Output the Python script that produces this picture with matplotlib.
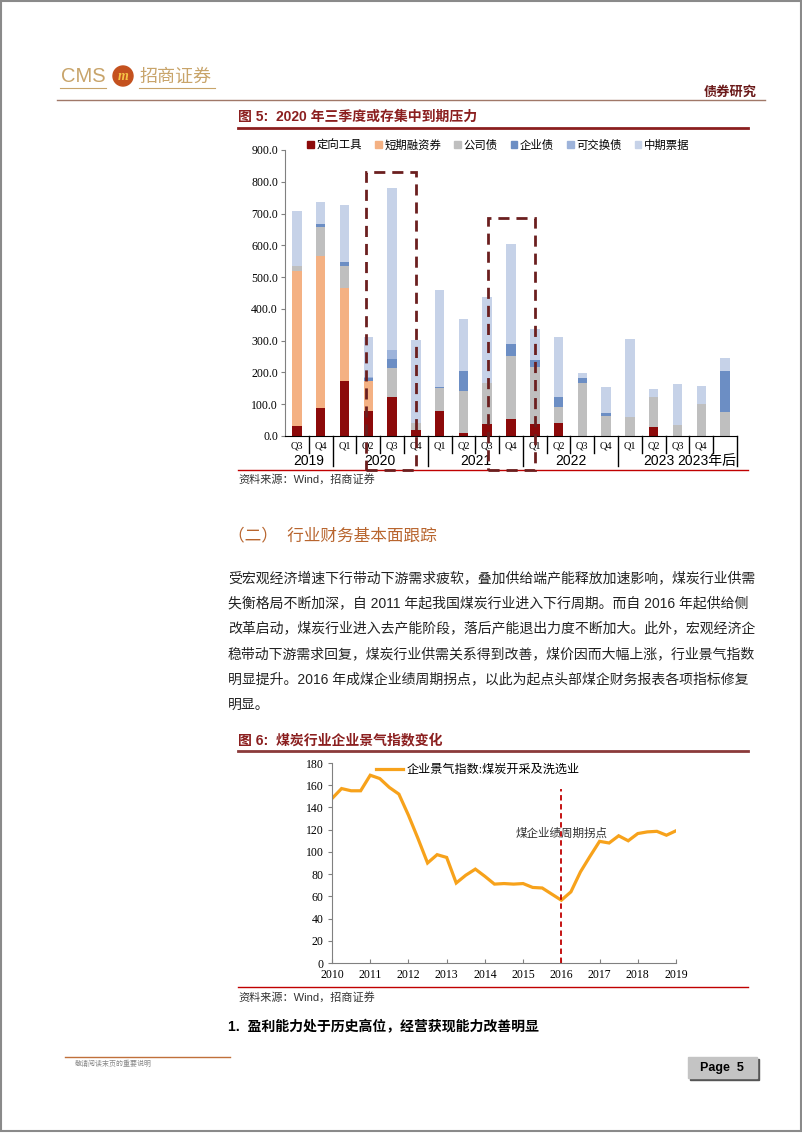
import numpy as np
import matplotlib
matplotlib.use('Agg')
import matplotlib.pyplot as plt
from matplotlib.patches import Rectangle, Circle, Patch

# ---------------- data: figure 5 (bond maturity, stacked bars) ----------------
quarters = ['Q3', 'Q4', 'Q1', 'Q2', 'Q3', 'Q4', 'Q1', 'Q2', 'Q3', 'Q4',
            'Q1', 'Q2', 'Q3', 'Q4', 'Q1', 'Q2', 'Q3', 'Q4', '']
years = ['2019', '2020', '2021', '2022', '2023', '2023年后']
series_names = ['定向工具', '短期融资券', '公司债', '企业债', '可交换债', '中期票据']
dingxiang = [31, 87, 173, 80, 123, 20, 79, 8, 39, 55, 38, 42, 0, 0, 0, 29, 0, 0, 0]
duanrong = [488, 480, 294, 94, 0, 0, 0, 0, 0, 0, 0, 0, 0, 0, 0, 0, 0, 0, 0]
gongsi = [17, 90, 69, 0, 90, 20, 72, 134, 129, 197, 180, 50, 166, 63, 60, 93, 35, 100, 75]
qiye = [0, 9, 13, 9, 29, 0, 4, 62, 0, 38, 21, 31, 16, 8, 0, 0, 0, 0, 129]
kejiaohuan = [0, 0, 0, 3, 29, 0, 0, 0, 0, 0, 0, 0, 0, 0, 0, 0, 0, 0, 0]
zhongpiao = [172, 70, 178, 125, 509, 262, 306, 165, 270, 313, 97, 188, 16, 84, 244, 27, 128, 57, 41]
bar_colors = ['#8C0A0A', '#F4B183', '#BFBFBF', '#6C8EC4', '#9DB3DA', '#C6D2E8']

# ---------------- data: figure 6 (coal industry climate index, quarterly) -----
index_values = [148, 157, 155, 155, 169, 166, 158, 152, 133, 112, 90, 97.5, 95,
                72, 79, 84.5, 78, 71, 71.5, 71, 71.5, 68, 67.5, 62, 56.5, 64,
                82, 96, 109.5, 108, 114.5, 110, 116.5, 118, 118.5, 115, 119]
index_years = list(range(2010, 2020))

paragraph = [
    '受宏观经济增速下行带动下游需求疲软，叠加供给端产能释放加速影响，煤炭行业供需',
    '失衡格局不断加深，自 2011 年起我国煤炭行业进入下行周期。而自 2016 年起供给侧',
    '改革启动，煤炭行业进入去产能阶段，落后产能退出力度不断加大。此外，宏观经济企',
    '稳带动下游需求回复，煤炭行业供需关系得到改善，煤价因而大幅上涨，行业景气指数',
    '明显提升。2016 年成煤企业绩周期拐点，以此为起点头部煤企财务报表各项指标修复',
    '明显。',
]

W, H = 802, 1133
SERIF = ['Liberation Serif', 'Noto Sans CJK SC']
SANS = ['Liberation Sans', 'Noto Sans CJK SC']
CJK = ['Noto Sans CJK SC', 'DejaVu Sans']
plt.rcParams['font.family'] = SANS

fig = plt.figure(figsize=(W / 100, H / 100), dpi=100)

# page layer in pixel coordinates
page = fig.add_axes([0, 0, 1, 1])
page.set_xlim(0, W)
page.set_ylim(H, 0)
page.axis('off')

# page border
page.add_patch(Rectangle((0.5, 0.5), W - 1.5, H - 2.5, fill=False, ec='#8A8A8A', lw=1.5))

# header
gold = '#C8A46A'
page.text(61, 77, 'CMS', fontsize=14.5, color=gold, family=SANS, va='center', ha='left')
page.add_patch(Circle((123, 76), 10, color='#C4511E'))
page.text(123, 76, 'm', fontsize=10, color='#F6C445', weight='bold', style='italic',
          ha='center', va='center', family=SERIF)
page.text(139, 77, '招商证券', fontsize=13, color=gold, family=CJK, va='center', ha='left')
page.plot([60, 106], [88, 88], color=gold, lw=0.8)
page.plot([139, 215], [88, 88], color=gold, lw=0.8)
page.plot([57, 765], [100, 100], color='#A07868', lw=1)
page.text(757, 92, '债券研究', fontsize=9.5, color='#6B1A1A', weight='bold', family=CJK,
          ha='right', va='center')

title_red = '#8B1F1F'
# figure 5 title
page.text(238, 117, '图 5:  2020 年三季度或存集中到期压力', fontsize=10, color=title_red,
          weight='bold', family=SANS, ha='left', va='center')
page.plot([238, 748], [127.5, 127.5], color=title_red, lw=2)
page.plot([238, 748], [470, 470], color='#C00000', lw=1)
page.text(238, 479, '资料来源：Wind，招商证券', fontsize=8, color='#333333', family=SANS,
          ha='left', va='center')

# section heading and paragraph
page.text(228, 535, '（二）  行业财务基本面跟踪', fontsize=12, color='#B8652E', family=SANS,
          ha='left', va='center')
for i, line in enumerate(paragraph):
    page.text(228, 578 + i * 25.3, line, fontsize=10, color='#222222', family=SANS,
              ha='left', va='center')

# figure 6 title
page.text(238, 740, '图 6:  煤炭行业企业景气指数变化', fontsize=10, color=title_red,
          weight='bold', family=SANS, ha='left', va='center')
page.plot([238, 748], [750.5, 750.5], color='#8B3A3A', lw=2)
page.plot([238, 748], [987, 987], color='#C00000', lw=1)
page.text(238, 997, '资料来源：Wind，招商证券', fontsize=8, color='#333333', family=SANS,
          ha='left', va='center')

page.text(228, 1027, '1.  盈利能力处于历史高位，经营获现能力改善明显', fontsize=10,
          color='black', weight='bold', family=SANS, ha='left', va='center')

# footer
page.plot([65, 230], [1057, 1057], color='#C0703A', lw=1)
page.text(75, 1064, '敬请阅读末页的重要说明', fontsize=5, color='#888888', family=CJK,
          ha='left', va='center')
page.add_patch(Rectangle((690, 1059), 69, 21, color='#555555'))
page.add_patch(Rectangle((688, 1057), 69, 21, color='#C4C4C4'))
page.text(722, 1068, 'Page  5', fontsize=9, weight='bold', color='black', family=SANS,
          ha='center', va='center')

# ---------------- figure 5 chart ----------------
def px_axes(left, top, right, bottom):
    return [left / W, 1 - bottom / H, (right - left) / W, (bottom - top) / H]

ax1 = fig.add_axes(px_axes(285, 150, 737, 436))
x = np.arange(len(quarters))
stack = [dingxiang, duanrong, gongsi, qiye, kejiaohuan, zhongpiao]
bottom = np.zeros(len(x))
for vals, name, c in zip(stack, series_names, bar_colors):
    ax1.bar(x, vals, width=0.4, bottom=bottom, color=c, label=name, zorder=2)
    bottom += np.array(vals)

ax1.set_xlim(-0.5, 18.5)
ax1.set_ylim(0, 900)
ax1.set_yticks(np.arange(0, 901, 100))
ax1.set_yticklabels([f'{v:.1f}' for v in range(0, 901, 100)], family=SERIF, fontsize=8.5)
ax1.tick_params(axis='y', length=3, color='#808080', pad=2)
ax1.set_xticks(x)
ax1.set_xticklabels(quarters, family=SERIF, fontsize=7.5)
ax1.tick_params(axis='x', length=0, pad=4)
for s in ['top', 'right']:
    ax1.spines[s].set_visible(False)
ax1.spines['left'].set_color('#808080')
ax1.spines['bottom'].set_color('black')

axh = 286.0
xt = ax1.get_xaxis_transform()
long_seps = [1.5, 5.5, 9.5, 13.5, 18.5]
for b in np.arange(0.5, 18.5, 1.0):
    end = 466 if b in long_seps else 453
    ax1.plot([b, b], [0, -(end - 436) / axh], transform=xt, color='black', lw=1,
             clip_on=False)
ax1.plot([18.5, 18.5], [0, -(466 - 436) / axh], transform=xt, color='black', lw=1,
         clip_on=False)
year_pos = [0.5, 3.5, 7.5, 11.5, 15.2]
for yp, yl in zip(year_pos, years[:-1]):
    ax1.text(yp, -(461 - 436) / axh, yl, transform=xt, ha='center', va='center',
             fontsize=10, family=SANS)
ax1.text(18.45, -(461 - 436) / axh, years[-1], transform=xt, ha='right', va='center',
         fontsize=10, family=SANS)

# dashed highlight boxes
box_color = '#6B1F1F'
for x0, x1, top in [(2.92, 5.0, 830), (8.05, 10.0, 685)]:
    ax1.add_patch(Rectangle((x0, -107), x1 - x0, top + 107, fill=False, ec=box_color,
                            lw=2, ls=(0, (4, 2.5)), clip_on=False, zorder=5))

handles = [Patch(color=c) for c in bar_colors]
ax1.legend(handles, series_names, loc='center', bbox_to_anchor=(0.472, 1.017), ncol=6,
           frameon=False, prop={'family': SERIF, 'size': 8.2}, handlelength=0.6,
           handleheight=0.6, handletextpad=0.2, columnspacing=1.15, borderpad=0)

# ---------------- figure 6 chart ----------------
ax2 = fig.add_axes(px_axes(332, 763, 676, 963))
qx = 2010 + np.arange(len(index_values)) * 0.25
ax2.plot(qx, index_values, color='#F7A21B', lw=2.3, label='企业景气指数:煤炭开采及洗选业',
         solid_joinstyle='miter')
ax2.set_xlim(2010, 2019)
ax2.set_ylim(0, 180)
ax2.set_yticks(np.arange(0, 181, 20))
ax2.set_xticks(index_years)
ax2.set_xticklabels([str(y) for y in index_years], family=SERIF, fontsize=8.5)
ax2.set_yticklabels([str(v) for v in range(0, 181, 20)], family=SERIF, fontsize=8.5)
ax2.tick_params(axis='y', length=3, color='#808080', pad=3)
ax2.tick_params(axis='x', length=3, direction='in', color='#808080', pad=4)
for s in ['top', 'right']:
    ax2.spines[s].set_visible(False)
ax2.spines['left'].set_color('#808080')
ax2.spines['bottom'].set_color('#808080')
ax2.plot([2016, 2016], [0, 157], color='#C00000', lw=1.3, ls=(0, (3, 2)))
ax2.text(2016, 117, '煤企业绩周期拐点', ha='center', va='center', fontsize=8.3,
         color='#333333', family=CJK)
ax2.legend(loc='center left', bbox_to_anchor=(0.128, 0.965), frameon=False,
           prop={'family': SERIF, 'size': 8.7}, handlelength=2.2, handletextpad=0.3,
           borderpad=0, borderaxespad=0)

fig.savefig('out.png', dpi=100)
